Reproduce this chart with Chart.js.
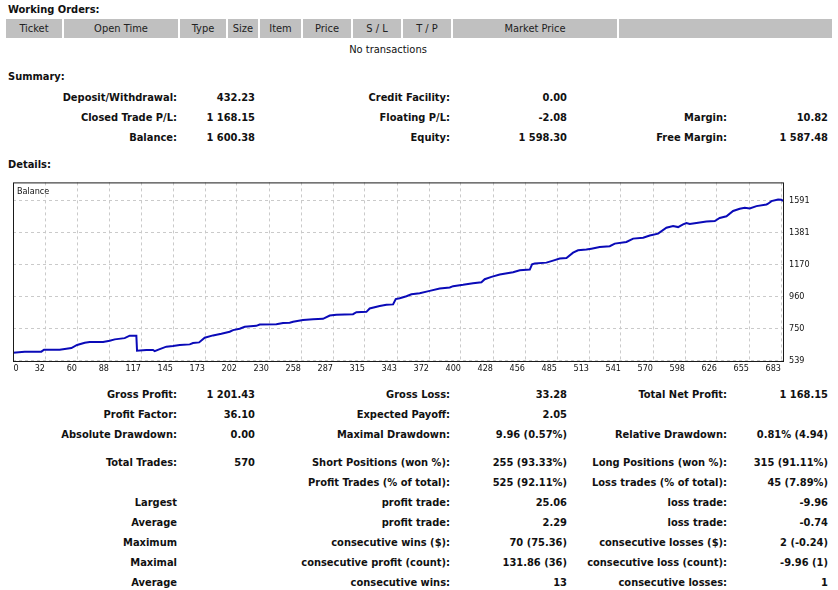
<!DOCTYPE html>
<html>
<head>
<meta charset="utf-8">
<script src="https://cdn.jsdelivr.net/npm/chart.js@4.4.0/dist/chart.umd.min.js"></script>
<style>
  body { margin: 0; width: 838px; height: 590px; background: #fff; position: relative; overflow: hidden;
         font-family: Tahoma, "DejaVu Sans Condensed", "Liberation Sans", sans-serif; font-size: 11px; color: #111; }
  .t { position: absolute; white-space: nowrap; line-height: 14px; margin-top: -6px; }
  .b { font-weight: bold; }
  .hc { position: absolute; top: 19px; height: 19px; line-height: 20px; text-align: center; background: #c0c0c0;
        border-right: 2px solid #fff; box-sizing: border-box; color: #222; }
  #chartBox { position: absolute; left: 0; top: 172px; width: 838px; height: 204px; }
</style>
</head>
<body>
<div id="chartBox"><canvas id="balance_Chart" width="838" height="204"></canvas></div>
<script>
// balance curve (trade number / balance)
const tradeNo = [0, 10.4, 25.2, 27.6, 41.5, 47.5, 51.9, 57.0, 63.8, 68.2, 80.1, 86.0, 90.5, 99.3, 103.8, 109.7,
  110.3, 118.6, 124.5, 126.0, 130.5, 136.4, 142.3, 148.3, 157.2, 160.1, 165.5, 170.5, 177.9, 185.3, 192.7, 195.7,
  201.6, 206.1, 216.4, 219.4, 234.2, 240.2, 246.1, 249.1, 257.9, 266.8, 275.7, 281.7, 287.6, 302.4, 305.4, 314.3,
  317.2, 326.1, 332.1, 338.0, 340.4, 343.9, 349.9, 354.3, 361.7, 370.6, 379.5, 388.4, 391.4, 400.3, 409.1, 416.6,
  419.5, 425.5, 432.9, 444.7, 450.7, 459.6, 461.6, 464.0, 474.4, 480.3, 486.2, 492.2, 498.1, 502.5, 509.9, 514.4,
  521.8, 530.7, 535.2, 545.5, 551.5, 560.4, 566.3, 573.7, 581.1, 587.0, 591.5, 595.9, 598.9, 601.8, 607.8, 616.7,
  624.1, 628.5, 634.5, 640.4, 646.3, 650.8, 655.2, 661.2, 670.1, 671.5, 674.5, 680.4, 683.4, 684.9];
const balance = [589, 596, 596, 609, 609, 615, 620, 640, 655, 659, 659, 668, 677, 685, 701, 701,
  602, 607, 607, 600, 613, 629, 633, 640, 644, 653, 657, 688, 703, 714, 727, 738,
  747, 760, 766, 775, 777, 784, 786, 793, 804, 810, 812, 834, 839, 843, 856, 858,
  880, 896, 904, 907, 942, 948, 961, 974, 981, 996, 1012, 1018, 1027, 1036, 1047, 1053,
  1073, 1088, 1104, 1119, 1132, 1136, 1171, 1176, 1182, 1195, 1209, 1213, 1248, 1263, 1268, 1274,
  1285, 1290, 1307, 1318, 1340, 1346, 1360, 1373, 1412, 1423, 1416, 1434, 1443, 1436, 1443, 1452,
  1456, 1476, 1487, 1522, 1537, 1543, 1539, 1554, 1565, 1570, 1587, 1598, 1596, 1587];

const xTickLabels = ['0', '32', '60', '88', '117', '145', '173', '202', '230', '258', '287', '315', '343',
  '372', '400', '428', '456', '485', '513', '541', '570', '598', '626', '655', '683'];
const yTickValues = [539, 749.5, 960, 1170.5, 1381, 1591.5];
const yTickLabels = ['539', '750', '960', '1170', '1381', '1591'];

const orderHeaders = ['Ticket', 'Open Time', 'Type', 'Size', 'Item', 'Price', 'S / L', 'T / P', 'Market Price', ''];
const orderCols = [6, 64, 180, 228, 260, 303, 353, 403, 453, 619, 832];

const summaryRows = [
  [97, ['Deposit/Withdrawal:', '432.23', 'Credit Facility:', '0.00', '', '']],
  [117, ['Closed Trade P/L:', '1 168.15', 'Floating P/L:', '-2.08', 'Margin:', '10.82']],
  [137, ['Balance:', '1 600.38', 'Equity:', '1 598.30', 'Free Margin:', '1 587.48']]
];
const detailRows = [
  [394, ['Gross Profit:', '1 201.43', 'Gross Loss:', '33.28', 'Total Net Profit:', '1 168.15']],
  [414, ['Profit Factor:', '36.10', 'Expected Payoff:', '2.05', '', '']],
  [434, ['Absolute Drawdown:', '0.00', 'Maximal Drawdown:', '9.96 (0.57%)', 'Relative Drawdown:', '0.81% (4.94)']],
  [462, ['Total Trades:', '570', 'Short Positions (won %):', '255 (93.33%)', 'Long Positions (won %):', '315 (91.11%)']],
  [482, ['', '', 'Profit Trades (% of total):', '525 (92.11%)', 'Loss trades (% of total):', '45 (7.89%)']],
  [502, ['Largest', '', 'profit trade:', '25.06', 'loss trade:', '-9.96']],
  [522, ['Average', '', 'profit trade:', '2.29', 'loss trade:', '-0.74']],
  [542, ['Maximum', '', 'consecutive wins ($):', '70 (75.36)', 'consecutive losses ($):', '2 (-0.24)']],
  [562, ['Maximal', '', 'consecutive profit (count):', '131.86 (36)', 'consecutive loss (count):', '-9.96 (1)']],
  [582, ['Average', '', 'consecutive wins:', '13', 'consecutive losses:', '1']]
];
const colRight = [177, 255, 450, 567, 727, 828];

function txt(s, x, y, cls, align) {
  const d = document.createElement('div');
  d.className = 't ' + (cls || '');
  d.textContent = s;
  d.style.top = y + 'px';
  if (align == 'r') d.style.right = (838 - x) + 'px';
  else if (align == 'c') { d.style.left = x + 'px'; d.style.transform = 'translateX(-50%)'; }
  else d.style.left = x + 'px';
  document.body.appendChild(d);
}

txt('Working Orders:', 8, 9, 'b');
orderHeaders.forEach((h, i) => {
  const c = document.createElement('div');
  c.className = 'hc';
  c.style.left = orderCols[i] + 'px';
  c.style.width = (orderCols[i + 1] - orderCols[i]) + 'px';
  if (i == orderHeaders.length - 1) c.style.borderRight = 'none';
  c.textContent = h;
  document.body.appendChild(c);
});
txt('No transactions', 388, 49, '', 'c');
txt('Summary:', 8, 76, 'b');
txt('Details:', 8, 164, 'b');

[...summaryRows, ...detailRows].forEach(row => {
  row[1].forEach((s, i) => { if (s) txt(s, colRight[i], row[0], 'b', 'r'); });
});

// x scale: one grid cell = 32px = XSTEP trades
const XSTEP = 683 / 24;
const XMAX = (784 - 13) / 32 * XSTEP;

const boxPlugin = {
  id: 'box',
  afterDraw(chart) {
    const a = chart.chartArea, ctx = chart.ctx;
    ctx.save();
    ctx.strokeStyle = '#1a1a1a';
    ctx.lineWidth = 1;
    ctx.strokeRect(a.left + 0.5, a.top + 0.5, a.right - a.left - 1, a.bottom - a.top - 1);
    ctx.fillStyle = '#111';
    ctx.font = '9px Tahoma, "DejaVu Sans Condensed", "Liberation Sans", sans-serif';
    ctx.textBaseline = 'middle';
    ctx.fillText('Balance', a.left + 4, a.top + 9);
    ctx.restore();
  }
};

const tickFont = { family: 'Tahoma, "DejaVu Sans Condensed", "Liberation Sans", sans-serif', size: 9 };

new Chart(document.getElementById('balance_Chart'), {
  type: 'line',
  data: {
    datasets: [{
      label: 'Balance',
      data: tradeNo.map((t, i) => ({ x: t, y: balance[i] })),
      borderColor: '#0a0ab8',
      borderWidth: 2,
      pointRadius: 0,
      tension: 0,
      fill: false
    }]
  },
  options: {
    responsive: false,
    animation: false,
    layout: { padding: { left: 13, top: 6, right: 0, bottom: 0 } },
    plugins: { legend: { display: false }, tooltip: { enabled: false } },
    scales: {
      x: {
        type: 'linear',
        min: 0,
        max: XMAX,
        afterBuildTicks: scale => { scale.ticks = xTickLabels.map((l, k) => ({ value: k == 0 ? 5 : k * XSTEP })); },
        afterFit: scale => { scale.height = 14; },
        ticks: {
          callback: (v, i) => xTickLabels[i],
          autoSkip: false, maxRotation: 0, align: 'end', padding: 1,
          color: '#111', font: tickFont
        },
        grid: { color: ctx => ctx.index == 0 ? 'rgba(0,0,0,0)' : '#cacaca', drawTicks: false },
        border: { display: false, dash: [3, 3] }
      },
      y: {
        position: 'right',
        min: 528,
        max: 1710,
        afterBuildTicks: scale => { scale.ticks = yTickValues.map(v => ({ value: v })); },
        afterFit: scale => { scale.width = 54; },
        ticks: {
          callback: (v, i) => yTickLabels[i],
          padding: 5, color: '#111', font: tickFont
        },
        grid: { color: '#cacaca', drawTicks: false },
        border: { display: false, dash: [3, 3] }
      }
    }
  },
  plugins: [boxPlugin]
});
</script>
</body>
</html>
